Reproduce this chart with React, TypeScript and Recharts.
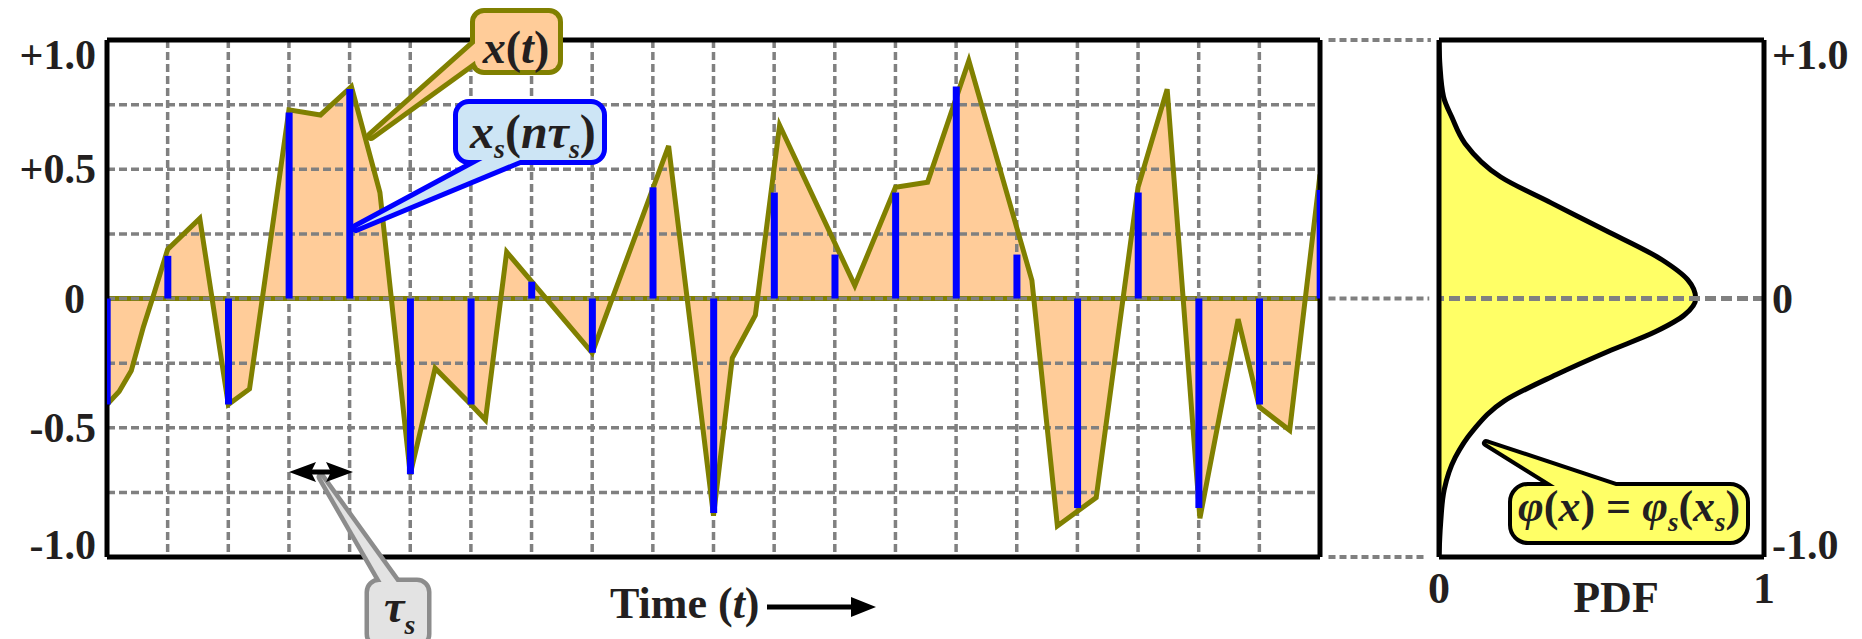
import React from "react";
import {
  Area,
  Bar,
  CartesianGrid,
  ComposedChart,
  Line,
  ReferenceLine,
  XAxis,
  YAxis,
} from "recharts";

const W = 1862;
const H = 639;

// continuous signal x(t): vertices, t in sample periods
const curveT = [
  0, 0.2, 0.4, 0.6, 0.75, 1, 1.53, 2, 2.35, 3, 3.52, 4.03, 4.5, 5, 5.41, 6,
  6.24, 6.59, 8, 9.26, 10, 10.31, 10.69, 11.09, 12.33, 13, 13.53, 14.21,
  15.25, 15.67, 16.31, 17, 17.48, 18.02, 18.65, 19, 19.5, 20,
];
const curveX = [
  -0.41, -0.36, -0.28, -0.11, 0, 0.19, 0.31, -0.41, -0.35, 0.73, 0.71, 0.82,
  0.41, -0.68, -0.27, -0.41, -0.47, 0.18, -0.21, 0.59, -0.84, -0.23, -0.065,
  0.67, 0.05, 0.43, 0.45, 0.92, 0.07, -0.88, -0.77, 0.43, 0.81, -0.85, -0.08,
  -0.42, -0.51, 0.48,
];

// sampled values x_s(n tau_s)
const sampleN = [
  0, 1, 2, 3, 4, 5, 6, 7, 8, 9, 10, 11, 12, 13, 14, 15, 16, 17, 18, 19, 20,
];
const sampleX = [
  -0.41, 0.165, -0.41, 0.72, 0.81, -0.68, -0.41, 0.065, -0.21, 0.43, -0.83,
  0.41, 0.17, 0.41, 0.82, 0.17, -0.81, 0.41, -0.81, -0.41, 0.42,
];

// PDF curve (rotated): amplitude level -> density
const pdfLevels = [
  1, 0.9, 0.78, 0.7, 0.6, 0.47, 0.37, 0.265, 0.15, 0.073, 0, -0.064, -0.128,
  -0.205, -0.295, -0.397, -0.51, -0.615, -0.74, -0.87, -1,
];
const pdfValues = [
  0, 0.003, 0.014, 0.04, 0.08, 0.19, 0.345, 0.51, 0.686, 0.765, 0.79, 0.755,
  0.667, 0.52, 0.36, 0.2, 0.105, 0.05, 0.016, 0.005, 0,
];

const yTicks = [1, 0.5, 0, -0.5, -1];
const yTickLabels = ["+1.0", "+0.5", "0", "-0.5", "-1.0"];
const pdfYTicks = [1, 0, -1];
const gridTicksY = [-1, -0.75, -0.5, -0.25, 0, 0.25, 0.5, 0.75, 1];
const gridTicksX = sampleN;
const pdfTicks = [0, 1];
const pdfTickLabels = ["0", "1"];

const curveData = curveT.map((t, i) => ({ t, x: curveX[i] }));
const sampleData = sampleN.map((n, i) => ({ n, x: sampleX[i] }));
const pdfData = pdfLevels.map((level, i) => ({ level, pdf: pdfValues[i] }));

// plot areas: signal 107..1320 x 40..557, PDF 1439..1764 x 40..557
const LEFT_MARGIN = { top: 40, right: 542, bottom: 82, left: 107 };
// the frame layers carry 1px axes on every side, so their margins shrink by 1
const LEFT_FRAME_MARGIN = { top: 39, right: 541, bottom: 81, left: 106 };
const PDF_FRAME_MARGIN = { top: 39, right: 97, bottom: 81, left: 1438 };

const FONT = "'Liberation Serif', 'Times New Roman', serif";
const INK = "#231F20";
const OLIVE = "#808000";
const GRAY = "#808080";
const FRAME = { stroke: "#000", strokeWidth: 5 };

const layer: React.CSSProperties = { position: "absolute", left: 0, top: 0 };

const labelFor = (v: number) => yTickLabels[yTicks.indexOf(v)] ?? String(v);
const tickDy = (v: number) => (v === 1 ? 29 : v === -1 ? 2 : 14);

const LeftTick = (props: any) => {
  const { x, y, payload } = props;
  const v = payload.value;
  return (
    <text
      x={x - (v === 0 ? 14 : 3)}
      y={y + tickDy(v)}
      textAnchor="end"
      fontFamily={FONT}
      fontWeight="bold"
      fontSize={42}
      fill={INK}
    >
      {labelFor(v)}
    </text>
  );
};

const RightTick = (props: any) => {
  const { x, y, payload } = props;
  const v = payload.value;
  return (
    <text
      x={x}
      y={y + tickDy(v)}
      textAnchor="start"
      fontFamily={FONT}
      fontWeight="bold"
      fontSize={42}
      fill={INK}
    >
      {labelFor(v)}
    </text>
  );
};

const PdfTick = (props: any) => {
  const { x, y, payload } = props;
  return (
    <text
      x={x}
      y={y + 38}
      textAnchor="middle"
      fontFamily={FONT}
      fontWeight="bold"
      fontSize={44}
      fill={INK}
    >
      {pdfTickLabels[pdfTicks.indexOf(payload.value)]}
    </text>
  );
};

interface CalloutProps {
  x: number;
  y: number;
  w: number;
  h: number;
  r: number;
  tail: number[][];
  fill: string;
  stroke: string;
  sw: number;
}

// box + pointer drawn as one outlined shape (wide stroke under, fill on top)
const Callout = ({ x, y, w, h, r, tail, fill, stroke, sw }: CalloutProps) => {
  const pts = tail.map((p) => p.join(",")).join(" ");
  return (
    <g>
      <rect x={x} y={y} width={w} height={h} rx={r} fill={stroke} stroke={stroke} strokeWidth={sw * 2} />
      <polygon points={pts} fill={stroke} stroke={stroke} strokeWidth={sw * 2} strokeLinejoin="round" />
      <rect x={x} y={y} width={w} height={h} rx={r} fill={fill} />
      <polygon points={pts} fill={fill} />
    </g>
  );
};

const Annotations = () => (
  <svg width={W} height={H} style={layer}>
    <g fontFamily={FONT} fontWeight="bold" fill={INK}>
      <Callout x={475} y={13} w={83} h={57} r={9} tail={[[371, 136], [490, 30], [490, 50]]} fill="#FFCC99" stroke={OLIVE} sw={5} />
      <text x={516} y={63} fontSize={46} textAnchor="middle">
        <tspan fontStyle="italic">x</tspan>
        <tspan>(</tspan>
        <tspan fontStyle="italic">t</tspan>
        <tspan>)</tspan>
      </text>

      <Callout x={458} y={104} w={144} h={56} r={11} tail={[[356, 228], [544, 150], [501, 150]]} fill="#CDE5F5" stroke="#0000FF" sw={5} />
      <text x={470} y={148} fontSize={48}>
        <tspan fontStyle="italic">x</tspan>
        <tspan fontStyle="italic" fontSize={28} dy={10}>s</tspan>
        <tspan dy={-10}>(</tspan>
        <tspan fontStyle="italic">nτ</tspan>
        <tspan fontStyle="italic" fontSize={28} dy={10}>s</tspan>
        <tspan dy={-10}>)</tspan>
      </text>

      <Callout x={369} y={582} w={58} h={62} r={10} tail={[[321, 477], [406, 595], [389, 595]]} fill="#E3E3E3" stroke="#8C8C8C" sw={4.5} />
      <text x={384} y={622} fontSize={46}>
        <tspan fontStyle="italic">τ</tspan>
        <tspan fontStyle="italic" fontSize={28} dy={12}>s</tspan>
      </text>

      {/* tau_s double arrow */}
      <line x1={305} y1={472} x2={337} y2={472} stroke="#000" strokeWidth={5} />
      <polygon points="289,472 316,462 311,472 316,482" fill="#000" />
      <polygon points="353,472 326,462 331,472 326,482" fill="#000" />

      <Callout x={1512} y={486} w={234} h={55} r={16} tail={[[1486, 443], [1646, 496], [1571, 496]]} fill="#FFFF66" stroke="#000" sw={4} />
      <text x={1518} y={521} fontSize={44}>
        <tspan fontStyle="italic">φ</tspan>
        <tspan>(</tspan>
        <tspan fontStyle="italic">x</tspan>
        <tspan>) = </tspan>
        <tspan fontStyle="italic">φ</tspan>
        <tspan fontStyle="italic" fontSize={27} dy={10}>s</tspan>
        <tspan dy={-10}>(</tspan>
        <tspan fontStyle="italic">x</tspan>
        <tspan fontStyle="italic" fontSize={27} dy={10}>s</tspan>
        <tspan dy={-10}>)</tspan>
      </text>

      <text x={610} y={618} fontSize={44}>
        <tspan>Time (</tspan>
        <tspan fontStyle="italic">t</tspan>
        <tspan>)</tspan>
      </text>
      <line x1={767} y1={607} x2={856} y2={607} stroke="#000" strokeWidth={5} />
      <polygon points="876,607 851,597 851,617" fill="#000" />

      <text x={1616} y={612} fontSize={44} textAnchor="middle">
        PDF
      </text>
    </g>
  </svg>
);

const App: React.FC = () => (
  <div
    style={{
      position: "absolute",
      left: 0,
      top: 0,
      width: W,
      height: H,
      background: "#fff",
      overflow: "hidden",
    }}
  >
    {/* orange fill under the signal */}
    <div style={layer}>
      <ComposedChart width={W} height={H} data={curveData} margin={LEFT_MARGIN}>
        <XAxis type="number" dataKey="t" domain={[0, 20]} allowDataOverflow hide />
        <YAxis type="number" domain={[-1, 1]} allowDataOverflow hide />
        <Area
          type="linear"
          dataKey="x"
          baseValue={0}
          fill="#FFCC99"
          fillOpacity={1}
          stroke="none"
          isAnimationActive={false}
        />
        <ReferenceLine y={0} stroke={OLIVE} strokeWidth={5} />
      </ComposedChart>
    </div>

    {/* dashed grid */}
    <div style={layer}>
      <ComposedChart width={W} height={H} data={curveData} margin={LEFT_MARGIN}>
        <XAxis type="number" dataKey="t" domain={[0, 20]} ticks={gridTicksX} allowDataOverflow hide />
        <YAxis type="number" domain={[-1, 1]} ticks={gridTicksY} allowDataOverflow hide />
        <CartesianGrid stroke={GRAY} strokeWidth={3.5} strokeDasharray="8 4" />
      </ComposedChart>
    </div>

    {/* signal line and frame */}
    <div style={layer}>
      <ComposedChart width={W} height={H} data={curveData} margin={LEFT_FRAME_MARGIN}>
        <XAxis
          type="number"
          dataKey="t"
          domain={[0, 20]}
          allowDataOverflow
          height={1}
          tick={false}
          tickLine={false}
          axisLine={FRAME}
        />
        <XAxis
          xAxisId="top"
          orientation="top"
          type="number"
          domain={[0, 20]}
          allowDataOverflow
          height={1}
          tick={false}
          tickLine={false}
          axisLine={FRAME}
        />
        <YAxis
          type="number"
          domain={[-1, 1]}
          ticks={yTicks}
          allowDataOverflow
          width={1}
          tick={LeftTick}
          tickLine={false}
          axisLine={FRAME}
        />
        <YAxis
          yAxisId="right"
          orientation="right"
          type="number"
          domain={[-1, 1]}
          allowDataOverflow
          width={1}
          tick={false}
          tickLine={false}
          axisLine={FRAME}
        />
        <Line
          type="linear"
          dataKey="x"
          stroke={OLIVE}
          strokeWidth={5}
          strokeLinejoin="miter"
          dot={false}
          isAnimationActive={false}
        />
      </ComposedChart>
    </div>

    {/* sample stems */}
    <div style={layer}>
      <ComposedChart width={W} height={H} data={sampleData} margin={LEFT_MARGIN}>
        <XAxis type="number" dataKey="n" domain={[0, 20]} allowDataOverflow hide />
        <YAxis type="number" domain={[-1, 1]} allowDataOverflow hide />
        <Bar dataKey="x" fill="#0000FF" barSize={7} isAnimationActive={false} />
      </ComposedChart>
    </div>

    {/* PDF panel (vertical layout: amplitude on the y axis) */}
    <div style={layer}>
      <ComposedChart
        width={W}
        height={H}
        data={pdfData}
        layout="vertical"
        margin={PDF_FRAME_MARGIN}
      >
        <XAxis
          type="number"
          domain={[0, 1]}
          ticks={pdfTicks}
          allowDataOverflow
          height={1}
          tick={PdfTick}
          tickLine={false}
          axisLine={FRAME}
        />
        <XAxis
          xAxisId="top"
          orientation="top"
          type="number"
          domain={[0, 1]}
          allowDataOverflow
          height={1}
          tick={false}
          tickLine={false}
          axisLine={FRAME}
        />
        <YAxis
          type="number"
          dataKey="level"
          orientation="right"
          domain={[-1, 1]}
          reversed
          ticks={pdfYTicks}
          allowDataOverflow
          width={1}
          tick={RightTick}
          tickLine={false}
          axisLine={FRAME}
        />
        <YAxis
          yAxisId="left"
          orientation="left"
          type="number"
          domain={[-1, 1]}
          reversed
          allowDataOverflow
          width={1}
          tick={false}
          tickLine={false}
          axisLine={FRAME}
        />
        <Area
          type="monotone"
          dataKey="pdf"
          fill="#FFFF66"
          fillOpacity={1}
          stroke="#000"
          strokeWidth={5}
          isAnimationActive={false}
        />
        <ReferenceLine y={0} stroke={GRAY} strokeWidth={5} strokeDasharray="11 5" />
        <ReferenceLine
          segment={[{ x: -0.34, y: 1 }, { x: -0.025, y: 1 }]}
          ifOverflow="visible"
          stroke={GRAY}
          strokeWidth={4}
          strokeDasharray="7 4"
        />
        <ReferenceLine
          segment={[{ x: -0.34, y: 0 }, { x: -0.03, y: 0 }]}
          ifOverflow="visible"
          stroke={GRAY}
          strokeWidth={4}
          strokeDasharray="7 4"
        />
        <ReferenceLine
          segment={[{ x: -0.34, y: -1 }, { x: -0.04, y: -1 }]}
          ifOverflow="visible"
          stroke={GRAY}
          strokeWidth={4}
          strokeDasharray="7 4"
        />
      </ComposedChart>
    </div>

    <Annotations />
  </div>
);

export default App;
